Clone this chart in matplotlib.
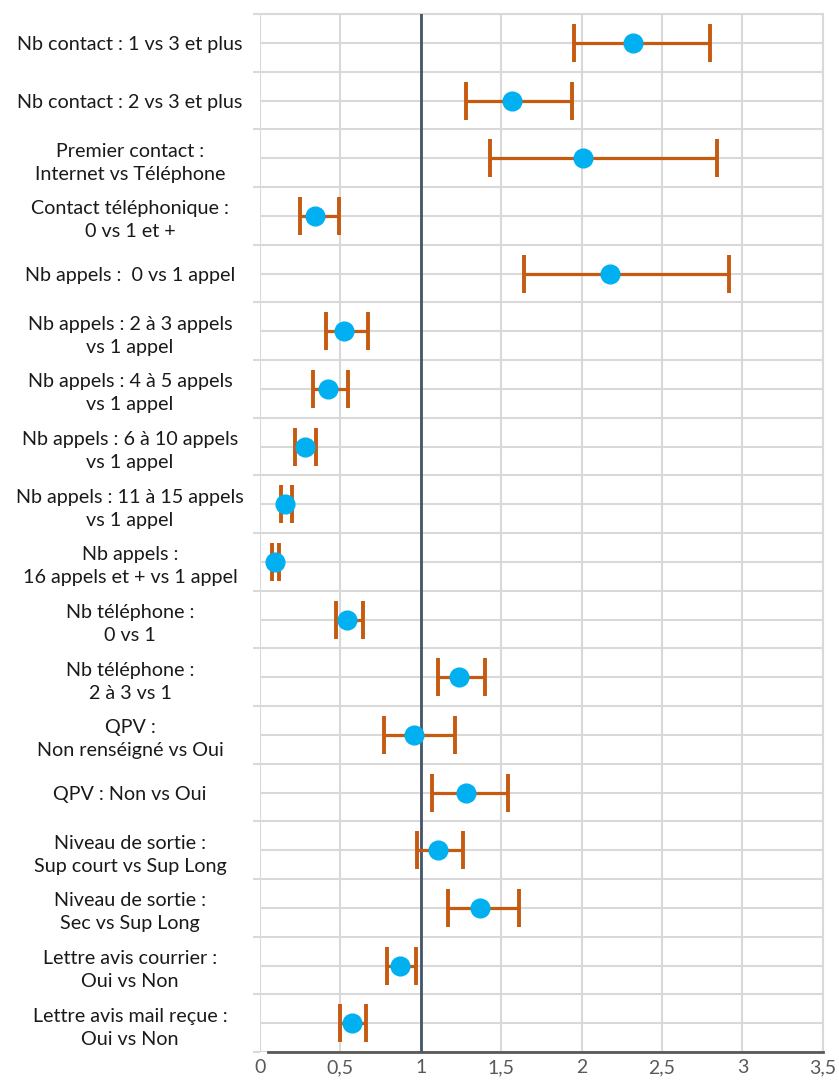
import matplotlib
matplotlib.use("Agg")
import matplotlib.pyplot as plt
from matplotlib.ticker import FixedLocator, FuncFormatter
import numpy as np

plt.rcParams['font.family'] = ['Lato', 'DejaVu Sans']

# Data (odds ratio, lower CI, upper CI)
labels = [
    "Nb contact : 1 vs 3 et plus",
    "Nb contact : 2 vs 3 et plus",
    "Premier contact :\nInternet vs Téléphone",
    "Contact téléphonique :\n0 vs 1 et +",
    "Nb appels :  0 vs 1 appel",
    "Nb appels : 2 à 3 appels\nvs 1 appel",
    "Nb appels : 4 à 5 appels\nvs 1 appel",
    "Nb appels : 6 à 10 appels\nvs 1 appel",
    "Nb appels : 11 à 15 appels\nvs 1 appel",
    "Nb appels :\n16 appels et + vs 1 appel",
    "Nb téléphone :\n0 vs 1",
    "Nb téléphone :\n2 à 3 vs 1",
    "QPV :\nNon renséigné vs Oui",
    "QPV : Non vs Oui",
    "Niveau de sortie :\nSup court vs Sup Long",
    "Niveau de sortie :\nSec vs Sup Long",
    "Lettre avis courrier :\nOui vs Non",
    "Lettre avis mail reçue :\nOui vs Non",
]
odds = [2.32, 1.57, 2.01, 0.34, 2.18, 0.52, 0.42, 0.28, 0.155, 0.093,
        0.54, 1.24, 0.96, 1.28, 1.11, 1.37, 0.87, 0.57]
lower = [1.95, 1.28, 1.43, 0.25, 1.64, 0.41, 0.33, 0.22, 0.13, 0.073,
         0.47, 1.11, 0.77, 1.07, 0.975, 1.17, 0.79, 0.50]
upper = [2.80, 1.94, 2.84, 0.49, 2.92, 0.67, 0.55, 0.35, 0.20, 0.12,
         0.64, 1.40, 1.21, 1.54, 1.265, 1.61, 0.97, 0.66]
xticks = [0, 0.5, 1, 1.5, 2, 2.5, 3, 3.5]

odds = np.array(odds)
err = np.array([odds - np.array(lower), np.array(upper) - odds])
y = np.arange(len(labels))

fig = plt.figure(figsize=(8.39, 10.8), dpi=100)
ax = fig.add_axes([260/839, 1 - 1052/1080, 562.7/839, 1038/1080])

grid_col = '#D9D9D9'
ax.errorbar(odds, y, xerr=err, fmt='o', color='#00B0F0', markersize=13.5,
            ecolor='#C55A11', elinewidth=2.3, capsize=14, capthick=2.8, zorder=3)

ax.set_xlim(0, 3.5)
ax.set_ylim(len(labels) - 0.5, -0.5)

# vertical grid
ax.set_xticks(xticks)
ax.xaxis.set_major_formatter(FuncFormatter(lambda v, p: ('%g' % v).replace('.', ',')))
ax.grid(axis='x', color=grid_col, linewidth=1.5, zorder=0)

# horizontal lines: boundaries (major, with ticks) and row centres (minor, labelled)
ax.yaxis.set_major_locator(FixedLocator(np.arange(len(labels) + 1) - 0.5))
ax.yaxis.set_minor_locator(FixedLocator(y))
ax.set_yticklabels([], minor=False)
ax.set_yticklabels(labels, minor=True, ha='center', multialignment='center',
                   linespacing=1.42)
ax.grid(axis='y', which='both', color=grid_col, linewidth=1.5, zorder=0)
ax.tick_params(axis='y', which='major', length=5, width=1.5, color=grid_col)
ax.tick_params(axis='y', which='minor', length=0, pad=93.6, labelsize=14.2,
               labelcolor='#1a1a1a')
ax.tick_params(axis='x', length=0, labelsize=14, labelcolor='#595959', pad=5)

for s in ['top', 'right', 'left', 'bottom']:
    ax.spines[s].set_visible(False)

# reference line at 1 and bottom axis line
ax.axvline(1, color='#44546A', linewidth=2, zorder=2)
ax.plot([0.05, 3.5], [len(labels) - 0.5] * 2, color='#595959', linewidth=2,
        clip_on=False, zorder=2)
ax.plot([3.5, 3.5], [-0.5, len(labels) - 0.5], color=grid_col, linewidth=1.5,
        clip_on=False, zorder=1)
ax.plot([0, 3.5], [-0.5, -0.5], color=grid_col, linewidth=1.5,
        clip_on=False, zorder=1)

fig.savefig('out.png', dpi=100)
